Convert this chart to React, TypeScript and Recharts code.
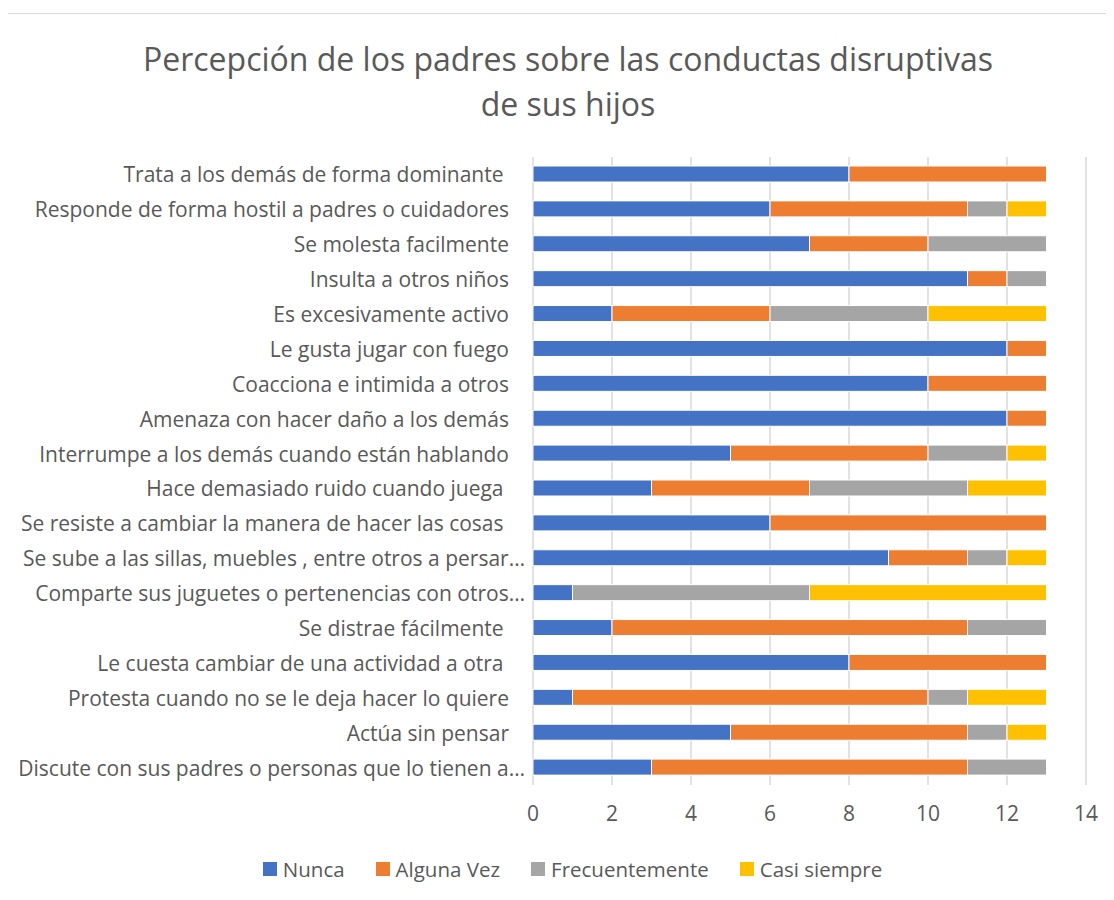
import React from "react";
import { BarChart, Bar, XAxis, YAxis, CartesianGrid } from "recharts";

const categories: string[] = [
  "Trata a los demás de forma dominante ",
  "Responde de forma hostil a padres o cuidadores",
  "Se molesta facilmente",
  "Insulta a otros niños",
  "Es excesivamente activo",
  "Le gusta jugar con fuego",
  "Coacciona e intimida a otros",
  "Amenaza con hacer daño a los demás",
  "Interrumpe a los demás cuando están hablando",
  "Hace demasiado ruido cuando juega ",
  "Se resiste a cambiar la manera de hacer las cosas ",
  "Se sube a las sillas, muebles , entre otros a persar…",
  "Comparte sus juguetes o pertenencias con otros…",
  "Se distrae fácilmente ",
  "Le cuesta cambiar de una actividad a otra ",
  "Protesta cuando no se le deja hacer lo quiere",
  "Actúa sin pensar",
  "Discute con sus padres o personas que lo tienen a…",
];

const nunca: number[] = [8, 6, 7, 11, 2, 12, 10, 12, 5, 3, 6, 9, 1, 2, 8, 1, 5, 3];
const algunaVez: number[] = [5, 5, 3, 1, 4, 1, 3, 1, 5, 4, 7, 2, 0, 9, 5, 9, 6, 8];
const frecuentemente: number[] = [0, 1, 3, 1, 4, 0, 0, 0, 2, 4, 0, 1, 6, 2, 0, 1, 1, 2];
const casiSiempre: number[] = [0, 1, 0, 0, 3, 0, 0, 0, 1, 2, 0, 1, 6, 0, 0, 2, 1, 0];

const xTicks: number[] = [0, 2, 4, 6, 8, 10, 12, 14];

const series = [
  { key: "nunca", name: "Nunca", color: "#4472C4", values: nunca },
  { key: "alguna", name: "Alguna Vez", color: "#ED7D31", values: algunaVez },
  { key: "frec", name: "Frecuentemente", color: "#A5A5A5", values: frecuentemente },
  { key: "casi", name: "Casi siempre", color: "#FFC000", values: casiSiempre },
];

const data = categories.map((name, i) => {
  const row: Record<string, number | string> = { name };
  series.forEach((s) => {
    row[s.key] = s.values[i];
  });
  return row;
});

const FONT = "'Open Sans', 'DejaVu Sans', sans-serif";
const TEXT = "#595959";

const YTick = (props: any) => {
  const { x, y, payload } = props;
  const label: string = String(payload.value);
  const truncated = label.endsWith("…");
  return (
    <text
      x={truncated ? x + 16 : x}
      y={y}
      textAnchor="end"
      dominantBaseline="central"
      fill={TEXT}
      fontSize={21}
      fontFamily={FONT}
      style={{ whiteSpace: "pre" }}
    >
      {label}
    </text>
  );
};

export default function App() {
  return (
    <div
      style={{
        position: "relative",
        width: 1114,
        height: 900,
        margin: -8,
        background: "#fff",
        overflow: "hidden",
        fontFamily: FONT,
      }}
    >
      <div
        style={{
          position: "absolute",
          left: 7,
          top: 13,
          width: 1200,
          height: 1000,
          border: "1px solid #d9d9d9",
          boxSizing: "border-box",
        }}
      />
      <div
        style={{
          position: "absolute",
          left: 8,
          top: 36,
          width: 1120,
          textAlign: "center",
          fontSize: 32,
          lineHeight: "45px",
          color: TEXT,
        }}
      >
        Percepción de los padres sobre las conductas disruptivas
        <br />
        de sus hijos
      </div>
      <div style={{ position: "absolute", left: 0, top: 0 }}>
        <BarChart
          width={1114}
          height={900}
          data={data}
          layout="vertical"
          margin={{ top: 157, right: 28, left: 0, bottom: 65 }}
          barSize={16}
        >
          <CartesianGrid horizontal={false} vertical={true} stroke="#d9d9d9" strokeWidth={1.5} />
          <XAxis
            type="number"
            domain={[0, 14]}
            ticks={xTicks}
            interval={0}
            axisLine={false}
            tickLine={false}
            tickSize={0}
            tickMargin={21}
            height={50}
            tick={{ fill: TEXT, fontSize: 21, fontFamily: FONT }}
          />
          <YAxis
            type="category"
            dataKey="name"
            width={533}
            axisLine={false}
            tickLine={false}
            tickSize={0}
            tickMargin={24}
            interval={0}
            tick={<YTick />}
          />
          {series.map((s) => (
            <Bar
              key={s.key}
              dataKey={s.key}
              name={s.name}
              stackId="a"
              fill={s.color}
              stroke="#ffffff"
              strokeWidth={1}
              isAnimationActive={false}
            />
          ))}
        </BarChart>
      </div>
      <div
        style={{
          position: "absolute",
          left: 0,
          top: 854,
          width: 1145,
          height: 30,
          display: "flex",
          justifyContent: "center",
          alignItems: "center",
          gap: 31,
          fontSize: 20.5,
          color: TEXT,
        }}
      >
        {series.map((s) => (
          <div key={s.key} style={{ display: "flex", alignItems: "center" }}>
            <span
              style={{
                display: "inline-block",
                width: 14,
                height: 14,
                background: s.color,
                marginRight: 6,
              }}
            />
            <span>{s.name}</span>
          </div>
        ))}
      </div>
    </div>
  );
}
